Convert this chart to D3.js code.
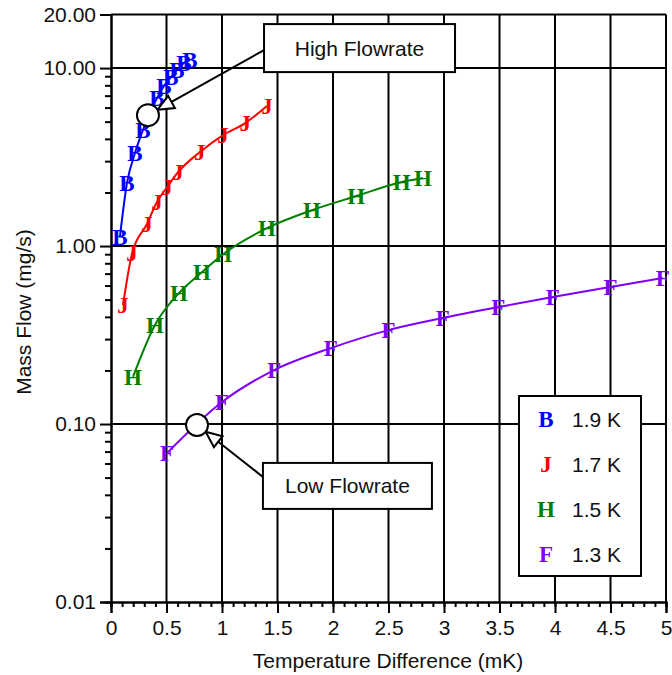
<!DOCTYPE html>
<html>
<head>
<meta charset="utf-8">
<script src="https://cdn.jsdelivr.net/npm/d3@7"></script>
<style>
  body { margin: 0; background: #fff; }
  text { font-family: "Liberation Sans", Arial, sans-serif; }
</style>
</head>
<body>
<svg id="main" width="672" height="675"></svg>
<script>
// series data (dT in mK, flow in mg/s)
var seriesNames = ["B", "J", "H", "F"]
var seriesLabels = ["1.9 K", "1.7 K", "1.5 K", "1.3 K"]
var seriesColors = ["#0000ff", "#ff0000", "#008000", "#8000ff"]

var bX = [0.08, 0.144, 0.216, 0.288, 0.414, 0.477, 0.54, 0.595, 0.658, 0.71]
var bY = [1.12, 2.26, 3.33, 4.49, 6.78, 7.93, 8.9, 9.77, 10.7, 11.1]
var jX = [0.108, 0.19, 0.324, 0.414, 0.505, 0.604, 0.80, 1.01, 1.21, 1.405]
var jY = [0.466, 0.91, 1.33, 1.77, 2.14, 2.60, 3.37, 4.20, 4.91, 6.12]
var hX = [0.198, 0.396, 0.613, 0.82, 1.01, 1.405, 1.81, 2.21, 2.62, 2.81]
var hY = [0.184, 0.36, 0.545, 0.714, 0.90, 1.26, 1.59, 1.91, 2.29, 2.41]
var fX = [0.505, 1.0, 1.47, 1.98, 2.5, 2.99, 3.49, 3.98, 4.5, 4.97]
var fY = [0.0687, 0.133, 0.201, 0.267, 0.337, 0.394, 0.454, 0.517, 0.589, 0.661]

var xTicks = [0, 0.5, 1, 1.5, 2, 2.5, 3, 3.5, 4, 4.5, 5]
var yTicks = [0.01, 0.1, 1, 10, 20]

// annotations: circle (data coords) and label box centre (data coords)
var notes = [
    { text: "High Flowrate", cx: 0.333, cy: 5.44, bx: 2.239, by: 12.95, w: 191, h: 48, corner: "bl" },
    { text: "Low Flowrate", cx: 0.775, cy: 0.0987, bx: 2.13, by: 0.0449, w: 169, h: 46, corner: "tl" }
]

var svg = d3.select('#main')
var x = d3.scaleLinear().domain([0, 5]).range([111, 666])
var y = d3.scaleLog().domain([0.01, 20]).range([602, 14.5])

var series = [[bX, bY], [jX, jY], [hX, hY], [fX, fY]].map(function(s, i) {
    return {
        name: seriesNames[i],
        label: seriesLabels[i],
        color: seriesColors[i],
        points: s[0].map(function(v, k) { return [v, s[1][k]] })
    }
})

// grid
var grid = svg.append('g').attr('stroke', '#000').attr('stroke-width', 2)
grid.selectAll('line.v').data(xTicks.slice(1)).enter().append('line')
    .attr('x1', function(d) { return x(d) }).attr('x2', function(d) { return x(d) })
    .attr('y1', y(20)).attr('y2', y(0.01))
grid.selectAll('line.h').data([0.1, 1, 10, 20]).enter().append('line')
    .attr('y1', function(d) { return y(d) }).attr('y2', function(d) { return y(d) })
    .attr('x1', x(0)).attr('x2', x(5))

// axes
var fmtX = function(d) { return String(+d.toFixed(1)) }
var xAxis = svg.append('g').attr('transform', 'translate(0,' + y(0.01) + ')')
    .call(d3.axisBottom(x).tickValues(xTicks).tickSize(11).tickFormat(fmtX))
var xMinor = svg.append('g').attr('transform', 'translate(0,' + y(0.01) + ')')
    .call(d3.axisBottom(x).tickValues(d3.range(0, 51).map(function(i) { return i / 10 })).tickSize(5).tickFormat(''))
var minorY = []
;[0.01, 0.1, 1].forEach(function(dec) {
    for (var m = 2; m <= 9; m++) minorY.push(dec * m)
})
var yMinor = svg.append('g').attr('transform', 'translate(' + x(0) + ',0)')
    .call(d3.axisLeft(y).tickValues(minorY).tickSize(6).tickFormat(''))
var yAxis = svg.append('g').attr('transform', 'translate(' + x(0) + ',0)')
    .call(d3.axisLeft(y).tickValues(yTicks).tickSize(11).tickFormat(d3.format('.2f')))

;[xAxis, xMinor, yAxis, yMinor].forEach(function(a) {
    a.selectAll('path, line').attr('stroke', '#000').attr('stroke-width', 2)
    a.selectAll('text').style('font-family', '"Liberation Sans", Arial, sans-serif')
        .style('font-size', '21px').attr('fill', '#111')
})
xAxis.selectAll('text').attr('dy', '0.95em').attr('y', 13)
yAxis.selectAll('text').attr('x', -15)

svg.append('text')
    .attr('x', 388).attr('y', 668)
    .attr('text-anchor', 'middle')
    .style('font-size', '21px').attr('fill', '#111')
    .text('Temperature Difference (mK)')
svg.append('text')
    .attr('transform', 'translate(31,312) rotate(-90)')
    .attr('text-anchor', 'middle')
    .style('font-size', '21px').attr('fill', '#111')
    .text('Mass Flow (mg/s)')

// curves
var line = d3.line()
    .x(function(d) { return x(d[0]) })
    .y(function(d) { return y(d[1]) })
    .curve(d3.curveMonotoneX)
svg.selectAll('path.curve').data(series).enter().append('path')
    .attr('class', 'curve')
    .attr('d', function(d) { return line(d.points) })
    .attr('fill', 'none')
    .attr('stroke', function(d) { return d.color })
    .attr('stroke-width', 2)

// letter markers
var mg = svg.selectAll('g.markers').data(series).enter().append('g')
    .attr('fill', function(d) { return d.color })
mg.selectAll('text').data(function(d) { return d.points.map(function(p) { return { p: p, name: d.name } }) })
    .enter().append('text')
    .attr('x', function(d) { return x(d.p[0]) })
    .attr('y', function(d) { return y(d.p[1]) })
    .attr('dy', '0.34em')
    .attr('text-anchor', 'middle')
    .style('font-family', '"Liberation Serif", "Times New Roman", serif')
    .style('font-weight', 'bold')
    .style('font-size', '23px')
    .text(function(d) { return d.name })

// annotations
notes.forEach(function(n) {
    var cx = x(n.cx), cy = y(n.cy)
    var bx = x(n.bx), by = y(n.by)
    var sx = bx - n.w / 2
    var sy = n.corner === 'bl' ? by + 2 : by - n.h / 2 + 14
    var dx = cx - sx, dy = cy - sy
    var len = Math.sqrt(dx * dx + dy * dy)
    var ux = dx / len, uy = dy / len
    var tipX = cx - ux * 11, tipY = cy - uy * 11
    var baseX = tipX - ux * 16, baseY = tipY - uy * 16
    svg.append('line')
        .attr('x1', sx).attr('y1', sy).attr('x2', baseX).attr('y2', baseY)
        .attr('stroke', '#000').attr('stroke-width', 2)
    svg.append('path')
        .attr('d', 'M' + tipX + ',' + tipY +
            'L' + (baseX - uy * 7) + ',' + (baseY + ux * 7) +
            'L' + (baseX + uy * 7) + ',' + (baseY - ux * 7) + 'Z')
        .attr('fill', '#fff').attr('stroke', '#000').attr('stroke-width', 2)
    svg.append('circle')
        .attr('cx', cx).attr('cy', cy).attr('r', 11)
        .attr('fill', '#fff').attr('stroke', '#000').attr('stroke-width', 2)
    svg.append('rect')
        .attr('x', bx - n.w / 2).attr('y', by - n.h / 2)
        .attr('width', n.w).attr('height', n.h)
        .attr('fill', '#fff').attr('stroke', '#000').attr('stroke-width', 2)
    svg.append('text')
        .attr('x', bx).attr('y', by).attr('dy', '0.36em')
        .attr('text-anchor', 'middle')
        .style('font-size', '21px').attr('fill', '#111')
        .text(n.text)
})

// legend
var lg = svg.append('g')
lg.append('rect').attr('x', 519).attr('y', 396).attr('width', 122).attr('height', 180)
    .attr('fill', '#fff').attr('stroke', '#000').attr('stroke-width', 2)
var items = lg.selectAll('g.item').data(series).enter().append('g')
    .attr('transform', function(d, i) { return 'translate(0,' + (419 + i * 45) + ')' })
items.append('text')
    .attr('x', 546).attr('dy', '0.34em')
    .attr('text-anchor', 'middle')
    .attr('fill', function(d) { return d.color })
    .style('font-family', '"Liberation Serif", "Times New Roman", serif')
    .style('font-weight', 'bold')
    .style('font-size', '23px')
    .text(function(d) { return d.name })
items.append('text')
    .attr('x', 572).attr('dy', '0.36em')
    .style('font-size', '21px').attr('fill', '#111')
    .text(function(d) { return d.label })
</script>
</body>
</html>
